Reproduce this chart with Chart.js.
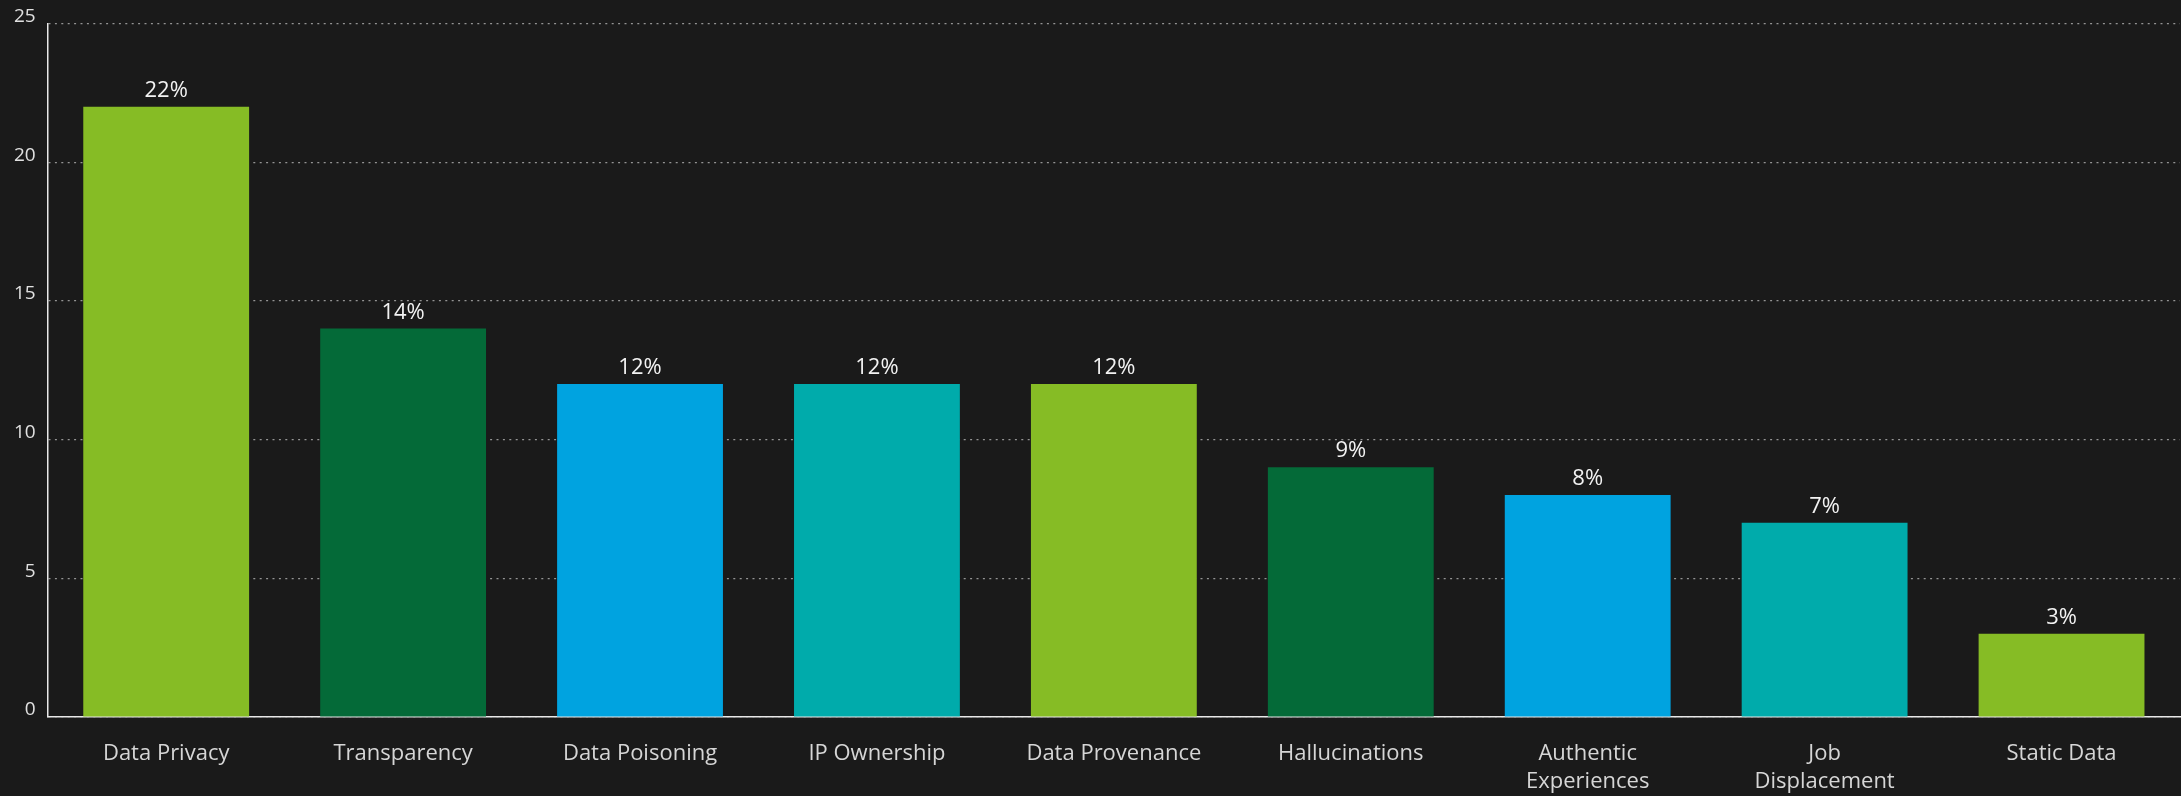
<!DOCTYPE html>
<html>
<head>
<meta charset="utf-8">
<script src="https://cdn.jsdelivr.net/npm/chart.js@4"></script>
<style>
  html, body { margin: 0; padding: 0; background: #1a1a1a; }
  #wrap { width: 2181px; height: 796px; position: relative; }
</style>
</head>
<body>
<div id="wrap"><canvas id="myChart"></canvas></div>
<script>
let categories = ['Data Privacy', 'Transparency', 'Data Poisoning', 'IP Ownership', 'Data Provenance',
    'Hallucinations', ['Authentic', 'Experiences'], ['Job', 'Displacement'], 'Static Data'];
let shares = [22, 14, 12, 12, 12, 9, 8, 7, 3];
let yTicks = [0, 5, 10, 15, 20, 25];

// green, dark green, blue, teal - repeats along the bars
let colorPalette = ['#86bc25', '#046a38', '#00a3e0', '#00abab'];
let barColors = shares.map((v, i) => colorPalette[i % colorPalette.length]);

// Writes the "nn%" value above each bar
const valueLabels = {
    id: 'valueLabels',
    afterDatasetsDraw(chart) {
        let ctx = chart.ctx;
        let meta = chart.getDatasetMeta(0);
        ctx.save();
        ctx.font = '22px "Open Sans"';
        ctx.fillStyle = '#f2f2f2';
        ctx.textAlign = 'center';
        ctx.textBaseline = 'alphabetic';
        meta.data.forEach((bar, i) => {
            ctx.fillText(shares[i] + '%', bar.x, bar.y - 10);
        });
        ctx.restore();
    }
};

let ctx = document.getElementById('myChart').getContext('2d');
let myChart = new Chart(ctx, {
    type: 'bar',
    data: {
        labels: categories,
        datasets: [{
            data: shares,
            backgroundColor: barColors,
            borderWidth: 0,
            barPercentage: 0.7,
            categoryPercentage: 1.0
        }]
    },
    plugins: [valueLabels],
    options: {
        responsive: true,
        maintainAspectRatio: false,
        animation: false,
        layout: {
            padding: { top: 21, left: 2, right: 1, bottom: 0 }
        },
        plugins: {
            legend: { display: false },
            tooltip: { enabled: false }
        },
        scales: {
            x: {
                grid: { display: false, drawTicks: false },
                border: { color: '#e8e8e8', width: 1.5 },
                // fixed band under the axis for the two-line labels
                afterFit(scale) {
                    scale.height = 79;
                },
                ticks: {
                    color: '#d6d6d6',
                    padding: 23,
                    maxRotation: 0,
                    autoSkip: false,
                    font: { family: 'Open Sans', size: 22, lineHeight: 1.25 }
                }
            },
            y: {
                min: 0,
                max: 25,
                afterBuildTicks(scale) {
                    scale.ticks = yTicks.map(v => ({ value: v }));
                },
                grid: {
                    color: 'rgba(190,190,190,0.75)',
                    lineWidth: 1.2,
                    drawTicks: false
                },
                border: { color: '#e8e8e8', width: 1.5, dash: [2, 4.4] },
                ticks: {
                    color: '#e0e0e0',
                    padding: 12,
                    labelOffset: -7,
                    font: { family: 'Open Sans', size: 19 }
                }
            }
        }
    }
});
</script>
</body>
</html>
